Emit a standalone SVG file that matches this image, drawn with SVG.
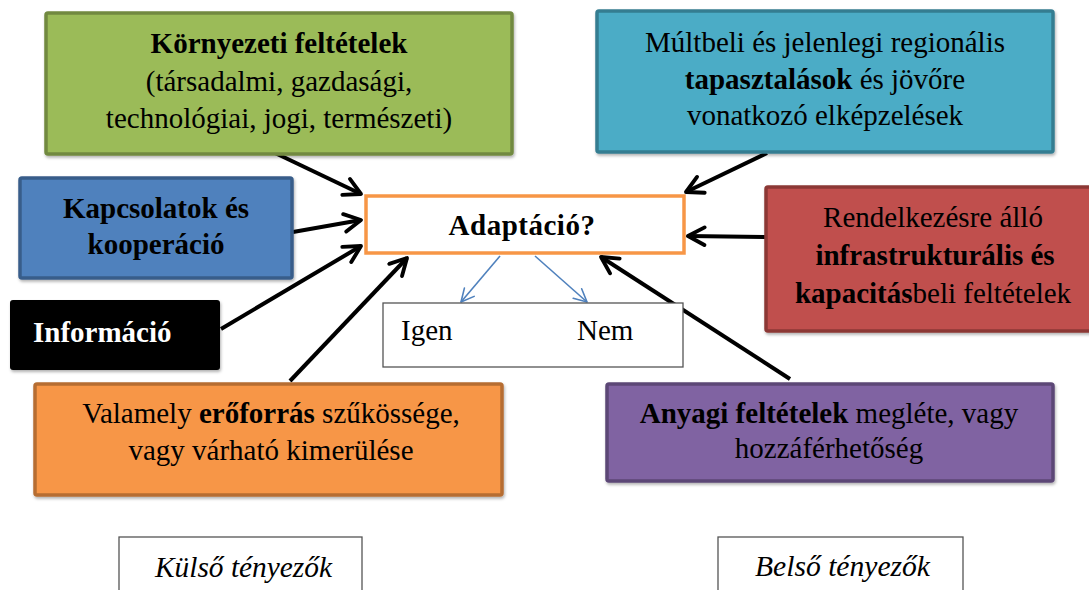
<svg xmlns="http://www.w3.org/2000/svg" width="1089" height="590" viewBox="0 0 1089 590">
<style>
  .t text { font-size: 29px; fill: #000; }
  .c { text-anchor: middle; }
  .b { font-weight: bold; }
  .box { stroke-width: 3.5; }
  .arr { stroke: #000; stroke-width: 4; fill: none; marker-end: url(#ah); }
  .barr { stroke: #4F81BD; stroke-width: 1.6; fill: none; marker-end: url(#bh); }
  .lbl { fill: #fff; stroke: #555; stroke-width: 1.3; }
  .it { font-style: italic; font-size: 33px; }
</style>
<defs>
  <filter id="sh" x="-5%" y="-5%" width="110%" height="115%">
    <feDropShadow dx="1" dy="2" stdDeviation="1.5" flood-color="#000" flood-opacity="0.3"/>
  </filter>
  <marker id="ah" markerUnits="userSpaceOnUse" viewBox="0 0 20 20" markerWidth="22" markerHeight="22" refX="18" refY="10" orient="auto">
    <path d="M3,2 L18,10 L3,18" fill="none" stroke="#000" stroke-width="3.5" stroke-linecap="round" stroke-linejoin="round"/>
  </marker>
  <marker id="bh" markerUnits="userSpaceOnUse" viewBox="0 0 20 20" markerWidth="16" markerHeight="16" refX="19" refY="10" orient="auto">
    <path d="M3,2 L19,10 L3,18" fill="none" stroke="#4F81BD" stroke-width="2" stroke-linecap="round" stroke-linejoin="round"/>
  </marker>
</defs>
<rect width="1089" height="590" fill="#fff"/>

<g id="connectors">
  <line class="arr" x1="273" y1="152" x2="361" y2="194"/>
  <line class="arr" x1="293" y1="232" x2="361" y2="220"/>
  <line class="arr" x1="221" y1="329" x2="361" y2="246"/>
  <line class="arr" x1="290" y1="381" x2="407" y2="258"/>
  <line class="arr" x1="767" y1="153" x2="686" y2="192"/>
  <line class="arr" x1="766" y1="237" x2="688" y2="236"/>
  <line class="arr" x1="790" y1="379" x2="601" y2="257"/>
  <line class="barr" x1="500" y1="256" x2="461" y2="302"/>
  <line class="barr" x1="535" y1="256" x2="587" y2="302"/>
</g>

<g class="t" font-family="Liberation Serif, DejaVu Serif, serif">
<g id="kornyezeti">
  <rect class="box" x="46" y="13" width="466" height="141" rx="2" fill="#9BBB59" stroke="#71893F" filter="url(#sh)"/>
  <text class="c b" x="279" y="53">Környezeti feltételek</text>
  <text class="c" x="279" y="91">(társadalmi, gazdasági,</text>
  <text class="c" x="279" y="128">technológiai, jogi, természeti)</text>
</g>

<g id="multbeli">
  <rect class="box" x="597" y="11" width="456" height="141" rx="2" fill="#4BACC6" stroke="#357D91" filter="url(#sh)"/>
  <text class="c" x="825" y="52">Múltbeli és jelenlegi regionális</text>
  <text class="c" x="825" y="89"><tspan class="b">tapasztalások</tspan> és jövőre</text>
  <text class="c" x="825" y="125">vonatkozó elképzelések</text>
</g>

<g id="kapcsolatok">
  <rect class="box" x="20" y="178" width="272" height="100" rx="2" fill="#4F81BD" stroke="#385D8A" filter="url(#sh)"/>
  <text class="c b" x="156" y="218">Kapcsolatok és</text>
  <text class="c b" x="156" y="254">kooperáció</text>
</g>

<g id="informacio">
  <rect x="10" y="300" width="210" height="70" rx="3" fill="#000" filter="url(#sh)"/>
  <text class="b" x="33" y="342" style="fill:#fff">Információ</text>
</g>

<g id="adaptacio">
  <rect x="366" y="196" width="318" height="57" fill="#fff" stroke="#F79646" stroke-width="3.5"/>
  <text class="c b" x="522" y="235" letter-spacing="0.5">Adaptáció?</text>
</g>

<g id="igennem">
  <rect class="lbl" x="383" y="303" width="300" height="64"/>
  <text x="401" y="340">Igen</text>
  <text x="577" y="340">Nem</text>
</g>

<g id="rendelkezesre">
  <rect class="box" x="766" y="187" width="336" height="144" rx="2" fill="#C0504D" stroke="#8C3836" filter="url(#sh)"/>
  <text class="c" x="933" y="227">Rendelkezésre álló</text>
  <text class="c b" x="935" y="265">infrastrukturális és</text>
  <text class="c" x="933" y="303"><tspan class="b">kapacitás</tspan>beli feltételek</text>
</g>

<g id="eroforras">
  <rect class="box" x="35" y="384" width="467" height="111" rx="2" fill="#F79646" stroke="#B66D31" filter="url(#sh)"/>
  <text class="c" x="271" y="423">Valamely <tspan class="b">erőforrás</tspan> szűkössége,</text>
  <text class="c" x="271" y="460">vagy várható kimerülése</text>
</g>

<g id="anyagi">
  <rect class="box" x="607" y="384" width="446" height="97" rx="2" fill="#8064A2" stroke="#5C4776" filter="url(#sh)"/>
  <text class="c" x="829" y="423"><tspan class="b">Anyagi feltételek</tspan> megléte, vagy</text>
  <text class="c" x="829" y="458">hozzáférhetőség</text>
</g>

<g id="kulso">
  <rect class="lbl" x="119" y="537" width="243" height="60"/>
  <text class="it" x="155" y="577" textLength="177" lengthAdjust="spacingAndGlyphs">Külső tényezők</text>
</g>

<g id="belso">
  <rect class="lbl" x="718" y="537" width="245" height="60"/>
  <text class="it" x="755" y="576" textLength="175" lengthAdjust="spacingAndGlyphs">Belső tényezők</text>
</g>
</g>
</svg>
